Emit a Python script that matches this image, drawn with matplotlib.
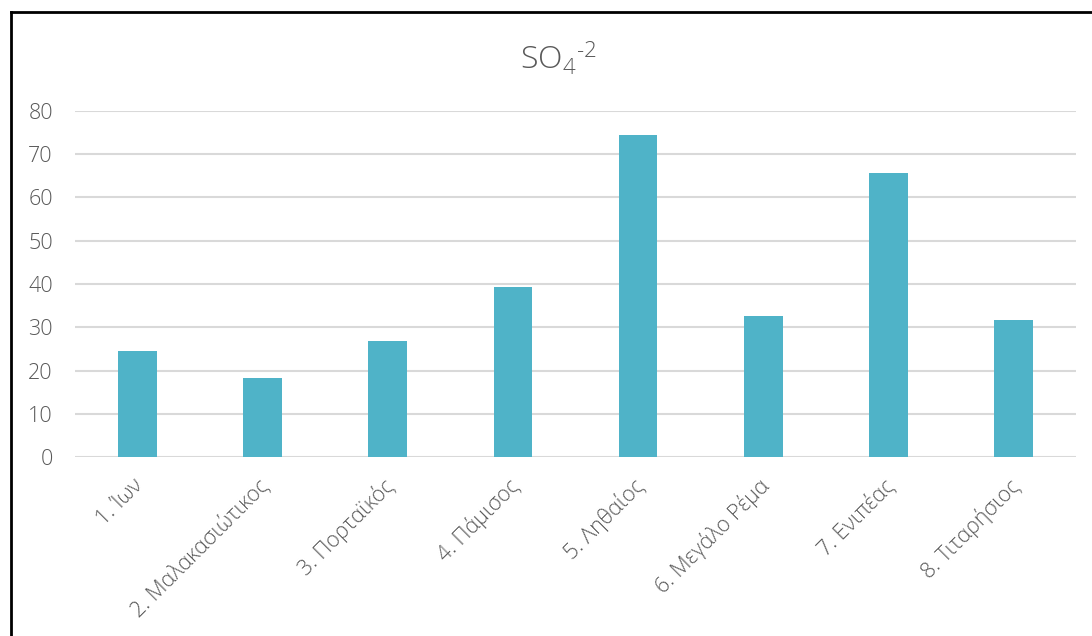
import matplotlib
matplotlib.use("Agg")
import matplotlib.pyplot as plt
from matplotlib.lines import Line2D
from matplotlib.transforms import ScaledTranslation

plt.rcParams['font.family'] = ['Open Sans', 'DejaVu Sans']
plt.rcParams['font.weight'] = 'light'
plt.rcParams['mathtext.fontset'] = 'custom'
plt.rcParams['mathtext.rm'] = 'Open Sans:light'
plt.rcParams['mathtext.it'] = 'Open Sans:light'

stations = ['1. Ίων', '2. Μαλακασιώτικος', '3. Πορταϊκός', '4. Πάμισος',
            '5. Ληθαίος', '6. Μεγάλο Ρέμα', '7. Ενιπέας', '8. Τιταρήσιος']
so4 = [24.5, 18.3, 26.8, 39.3, 74.5, 32.6, 65.7, 31.7]
yticks = [0, 10, 20, 30, 40, 50, 60, 70, 80]

textColor = '#595959'
gridColor = '#d9d9d9'
barColor = '#4fb3c8'

fig = plt.figure(figsize=(10.92, 6.36), dpi=100)
ax = fig.add_axes([0.0687, 0.2814, 0.9166, 0.5441])

x = list(range(len(stations)))
ax.bar(x, so4, width=0.31, color=barColor, zorder=3)

ax.set_xlim(-0.5, len(stations) - 0.5)
ax.set_ylim(0, 80)
ax.set_yticks(yticks)
ax.set_yticklabels([str(t) for t in yticks], fontsize=15.5, color=textColor,
                   fontweight='light')
ax.set_xticks(x)
ax.set_xticklabels(stations, rotation=45, ha='right', va='top',
                   rotation_mode='anchor', fontsize=15.5, color=textColor,
                   fontweight='light')
ax.tick_params(axis='both', length=0)
ax.tick_params(axis='y', pad=16)
ax.tick_params(axis='x', pad=13)

# nudge rotated labels a little to the left
shift = ScaledTranslation(-5/100, 0, fig.dpi_scale_trans)
for lbl in ax.get_xticklabels():
    lbl.set_transform(lbl.get_transform() + shift)

ax.grid(axis='y', color=gridColor, linewidth=1.5, zorder=0)
for s in ax.spines.values():
    s.set_visible(False)

fig.text(0.511, 0.908, r'SO$_4{}^{\text{-}2}$', ha='center', va='center',
         fontsize=23, color=textColor, fontweight='light')

# outer frame (only top and left visible in the crop)
fig.add_artist(Line2D([11/1092, 1], [1 - 12/636, 1 - 12/636], color='black', linewidth=2,
                      transform=fig.transFigure))
fig.add_artist(Line2D([11/1092, 11/1092], [0, 1 - 12/636], color='black', linewidth=2,
                      transform=fig.transFigure))

fig.savefig('out.png', dpi=100, facecolor='white')
